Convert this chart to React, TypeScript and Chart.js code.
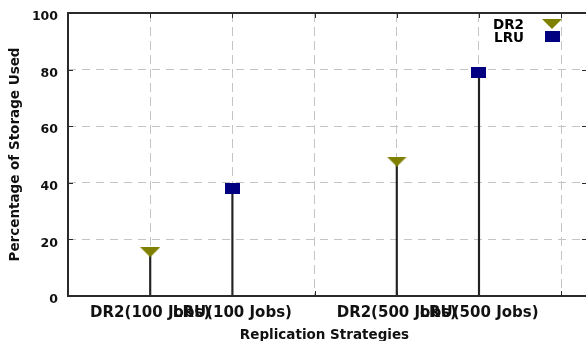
import React, { useEffect, useRef } from 'react';
import { Chart, registerables } from 'chart.js';

Chart.register(...registerables);

// ---- data ----
const categories = ['DR2(100 Jobs)', 'LRU(100 Jobs)', 'DR2(500 Jobs)', 'LRU(500 Jobs)'];
const categoryX = [1, 2, 4, 5];
const seriesNames = ['DR2', 'LRU'];
const dr2X = [1, 4];
const dr2Values = [15.5, 47.5];
const lruX = [2, 5];
const lruValues = [38, 79];
const xTicks = [0, 1, 2, 3, 4, 5, 6];
const yTicks = [0, 20, 40, 60, 80, 100];
const xTitle = 'Replication Strategies';
const yTitle = 'Percentage of Storage Used';

const FONT_FAMILY = "'DejaVu Sans', sans-serif";
const OLIVE = '#808000';
const NAVY = '#000080';
const TEXT = '#111111';
const FRAME = '#2a2a2a';

function makeTriangle(w: number, h: number, color: string) {
  const c = document.createElement('canvas');
  c.width = w;
  c.height = h;
  const ctx = c.getContext('2d')!;
  ctx.fillStyle = color;
  ctx.beginPath();
  ctx.moveTo(0, 0);
  ctx.lineTo(w, 0);
  ctx.lineTo(w / 2, h);
  ctx.closePath();
  ctx.fill();
  return c;
}

function makeRect(w: number, h: number, color: string) {
  const c = document.createElement('canvas');
  c.width = w;
  c.height = h;
  const ctx = c.getContext('2d')!;
  ctx.fillStyle = color;
  ctx.fillRect(0, 0, w, h);
  return c;
}

export default function App() {
  const ref = useRef<HTMLCanvasElement | null>(null);

  useEffect(() => {
    document.body.style.margin = '0';
    const canvas = ref.current;
    if (!canvas) return;

    const tri = makeTriangle(20, 10, OLIVE);
    const sq = makeRect(15, 11, NAVY);

    const framePlugin = {
      id: 'frame',
      afterDatasetsDraw(chart: any) {
        const { ctx, chartArea, scales } = chart;
        const { left, top, bottom } = chartArea;
        const right = chart.width;
        ctx.save();
        // tick marks (inward, mirrored)
        ctx.strokeStyle = FRAME;
        ctx.lineWidth = 1;
        ctx.beginPath();
        xTicks.forEach((v) => {
          const px = Math.round(scales.x.getPixelForValue(v)) + 0.5;
          ctx.moveTo(px, bottom);
          ctx.lineTo(px, bottom - 5);
          ctx.moveTo(px, top);
          ctx.lineTo(px, top + 5);
        });
        yTicks.forEach((v) => {
          const py = Math.round(scales.y.getPixelForValue(v)) + 0.5;
          ctx.moveTo(left, py);
          ctx.lineTo(left + 5, py);
          ctx.moveTo(right, py);
          ctx.lineTo(right - 4, py);
        });
        ctx.stroke();
        // border
        ctx.lineWidth = 2;
        ctx.beginPath();
        ctx.moveTo(right, top);
        ctx.lineTo(left, top);
        ctx.lineTo(left, bottom);
        ctx.lineTo(right, bottom);
        ctx.stroke();
        ctx.restore();
      },
      afterDraw(chart: any) {
        const { ctx } = chart;
        ctx.save();
        ctx.font = `bold 13.5px ${FONT_FAMILY}`;
        ctx.fillStyle = '#000';
        ctx.textAlign = 'right';
        ctx.textBaseline = 'middle';
        const imgs = [tri, sq];
        const textY = [25.7, 38.2];
        const markY = [23.5, 36];
        seriesNames.forEach((name, i) => {
          ctx.fillText(name, 524, textY[i]);
          const img = imgs[i];
          ctx.drawImage(img, Math.round(552 - img.width / 2), Math.round(markY[i] - img.height / 2));
        });
        ctx.restore();
      },
    };

    const chart = new Chart(canvas, {
      type: 'scatter',
      data: {
        datasets: [
          {
            type: 'bar',
            label: 'DR2 stem',
            data: dr2X.map((x, i) => ({ x, y: dr2Values[i] })),
            backgroundColor: '#222',
            barThickness: 1.5,
            grouped: false,
            order: 3,
          } as any,
          {
            type: 'bar',
            label: 'LRU stem',
            data: lruX.map((x, i) => ({ x, y: lruValues[i] })),
            backgroundColor: '#222',
            barThickness: 1.5,
            grouped: false,
            order: 3,
          } as any,
          {
            type: 'scatter',
            label: seriesNames[0],
            data: dr2X.map((x, i) => ({ x, y: dr2Values[i] })),
            pointStyle: tri,
            order: 1,
          } as any,
          {
            type: 'scatter',
            label: seriesNames[1],
            data: lruX.map((x, i) => ({ x, y: lruValues[i] })),
            pointStyle: sq,
            order: 1,
          } as any,
        ],
      },
      options: {
        responsive: false,
        animation: false,
        events: [],
        layout: { padding: { top: 13, left: 0, right: 0, bottom: 0 } },
        plugins: {
          legend: { display: false },
          tooltip: { enabled: false },
        },
        scales: {
          x: {
            type: 'linear',
            offset: false,
            min: 0,
            max: 518 / 83,
            afterBuildTicks: (scale: any) => {
              scale.ticks = xTicks.map((v) => ({ value: v }));
            },
            afterFit: (scale: any) => {
              scale.height = 45;
              scale.paddingLeft = 0;
              scale.paddingRight = 0;
            },
            grid: { color: '#c4c4c4', lineWidth: 1, drawTicks: false, offset: false },
            border: { display: false, dash: [9, 5] },
            ticks: {
              autoSkip: false,
              maxRotation: 0,
              minRotation: 0,
              padding: 8.5,
              color: TEXT,
              font: { family: FONT_FAMILY, size: 15, weight: 'bold' },
              callback: (v: any) => {
                const idx = categoryX.indexOf(Number(v));
                return idx >= 0 ? categories[idx] : '';
              },
            },
            title: {
              display: true,
              text: xTitle,
              color: TEXT,
              font: { family: FONT_FAMILY, size: 13.5, weight: 'bold' },
              padding: { top: 0, bottom: -3 },
            },
          },
          y: {
            type: 'linear',
            min: 0,
            max: 100,
            afterBuildTicks: (scale: any) => {
              scale.ticks = yTicks.map((v) => ({ value: v }));
            },
            afterFit: (scale: any) => {
              scale.width = 68;
              scale.paddingTop = 0;
              scale.paddingBottom = 0;
            },
            grid: { color: '#c4c4c4', lineWidth: 1, drawTicks: false },
            border: { display: false, dash: [8, 6] },
            ticks: {
              padding: 10,
              labelOffset: 4,
              color: TEXT,
              font: { family: FONT_FAMILY, size: 12.5, weight: 'bold' },
            },
            title: {
              display: true,
              text: yTitle,
              color: TEXT,
              font: { family: FONT_FAMILY, size: 13.5, weight: 'bold' },
              padding: { top: 7, bottom: 0 },
            },
          },
        },
      } as any,
      plugins: [framePlugin],
    });

    return () => {
      chart.destroy();
    };
  }, []);

  return (
    <div style={{ width: 586, height: 341, overflow: 'hidden' }}>
      <canvas ref={ref} width={586} height={341} style={{ display: 'block' }} />
    </div>
  );
}
